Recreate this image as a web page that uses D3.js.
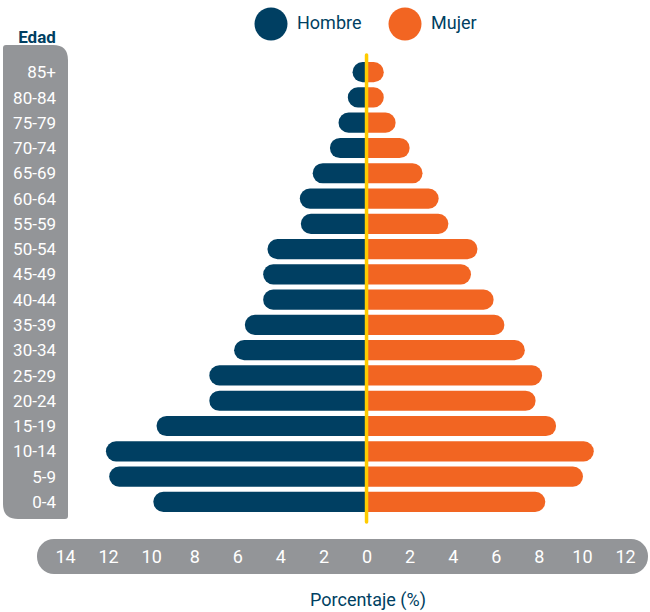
<!DOCTYPE html>
<html>
<head>
<meta charset="utf-8">
<script src="https://cdn.jsdelivr.net/npm/d3@7"></script>
<style>
  body { margin: 0; background: #fff; }
  svg text { font-family: Roboto, "Noto Sans", sans-serif; }
</style>
</head>
<body>
<div id="chart"></div>
<script>
// age groups, top to bottom
const ages = ["85+", "80-84", "75-79", "70-74", "65-69", "60-64", "55-59", "50-54", "45-49",
              "40-44", "35-39", "30-34", "25-29", "20-24", "15-19", "10-14", "5-9", "0-4"];
// percentage of population
const hombre = [0.65, 0.87, 1.3, 1.7, 2.5, 3.1, 3.05, 4.6, 4.8, 4.8, 5.65, 6.15, 7.3, 7.3, 9.75, 12.1, 11.95, 9.9];
const mujer  = [0.8, 0.8, 1.35, 2.0, 2.6, 3.35, 3.8, 5.15, 4.85, 5.9, 6.4, 7.35, 8.15, 7.85, 8.8, 10.55, 10.05, 8.3];
const xTicks = [-14, -12, -10, -8, -6, -4, -2, 0, 2, 4, 6, 8, 10, 12];
const series = ["Hombre", "Mujer"];

const W = 650, H = 612;
const navy = "#003f62", orange = "#f26522", grey = "#939598", gold = "#ffcc00";

const svg = d3.select("#chart").append("svg")
    .attr("width", W)
    .attr("height", H);

const x = d3.scaleLinear().domain([-14, 12]).range([65, 625]);
const y = d3.scaleBand().domain(ages).range([57, 517]).padding(0.2);

// left grey panel with age labels
const px0 = 3, px1 = 68, py0 = 45, py1 = 519, rBig = 15, rSmall = 3;
svg.append("path")
    .attr("d", `M${px0 + rSmall},${py0} H${px1 - rBig} Q${px1},${py0} ${px1},${py0 + rBig}
                V${py1 - rSmall} Q${px1},${py1} ${px1 - rSmall},${py1}
                H${px0 + rBig} Q${px0},${py1} ${px0},${py1 - rBig}
                V${py0 + rSmall} Q${px0},${py0} ${px0 + rSmall},${py0} Z`)
    .attr("fill", grey);

svg.append("text")
    .attr("x", 37).attr("y", 43)
    .attr("text-anchor", "middle")
    .attr("font-size", 17).attr("font-weight", "bold")
    .attr("fill", navy)
    .text("Edad");

svg.selectAll(".age")
  .data(ages)
  .enter().append("text")
    .attr("class", "age")
    .attr("x", 56)
    .attr("y", d => y(d) + y.bandwidth() / 2)
    .attr("dy", "0.36em")
    .attr("text-anchor", "end")
    .attr("font-size", 17)
    .attr("fill", "#fff")
    .text(d => d);

// bar with a rounded outer end
function barPath(x0, x1, top, h) {
  const r = h / 2;
  const dir = x1 < x0 ? -1 : 1;
  const len = Math.abs(x1 - x0);
  const rr = Math.min(r, len);
  const xe = x1 - dir * rr;
  return `M${x0},${top} H${xe} A${rr},${r} 0 0 ${dir > 0 ? 1 : 0} ${xe},${top + h} H${x0} Z`;
}

const rows = ages.map((a, i) => ({age: a, h: hombre[i], m: mujer[i]}));

svg.selectAll(".bar-h")
  .data(rows)
  .enter().append("path")
    .attr("class", "bar-h")
    .attr("d", d => barPath(x(0), x(-d.h), y(d.age), y.bandwidth()))
    .attr("fill", navy);

svg.selectAll(".bar-m")
  .data(rows)
  .enter().append("path")
    .attr("class", "bar-m")
    .attr("d", d => barPath(x(0), x(d.m), y(d.age), y.bandwidth()))
    .attr("fill", orange);

// centre line
svg.append("line")
    .attr("x1", x(0)).attr("x2", x(0))
    .attr("y1", 55).attr("y2", 522)
    .attr("stroke", gold)
    .attr("stroke-width", 3.5)
    .attr("stroke-linecap", "round");

// legend
const legend = svg.append("g");
const legendX = [271, 405];
series.forEach((s, i) => {
  legend.append("circle")
      .attr("cx", legendX[i]).attr("cy", 24).attr("r", 16.5)
      .attr("fill", i === 0 ? navy : orange);
  legend.append("text")
      .attr("x", legendX[i] + 26).attr("y", 23)
      .attr("dy", "0.36em")
      .attr("font-size", 18)
      .attr("fill", navy)
      .text(s);
});

// bottom axis pill
svg.append("rect")
    .attr("x", 37).attr("y", 539)
    .attr("width", 611).attr("height", 35)
    .attr("rx", 17).attr("ry", 17)
    .attr("fill", grey);

const axis = svg.append("g")
    .attr("transform", "translate(0,548)")
    .call(d3.axisBottom(x).tickValues(xTicks).tickFormat(d => Math.abs(d)).tickSize(0));
axis.select(".domain").remove();
axis.selectAll("text")
    .attr("fill", "#fff")
    .attr("font-size", 18)
    .attr("font-family", null)
    .attr("dy", "0.36em")
    .attr("y", 9);

svg.append("text")
    .attr("x", 368).attr("y", 600)
    .attr("dy", "0.36em")
    .attr("text-anchor", "middle")
    .attr("font-size", 18)
    .attr("fill", navy)
    .text("Porcentaje (%)");
</script>
</body>
</html>
